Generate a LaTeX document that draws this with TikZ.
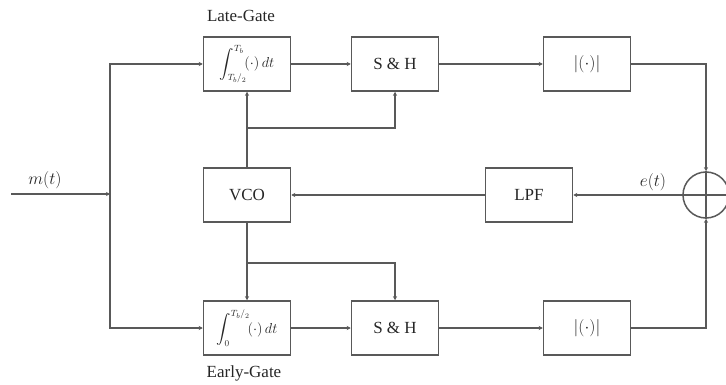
\documentclass[tikz,border=0pt]{standalone}
\usepackage{fontspec}
\usepackage{amsmath}
\setmainfont{Liberation Serif}
\usetikzlibrary{arrows.meta,calc}
\begin{document}
\begin{tikzpicture}[x=1pt,y=-1pt,
  wire/.style={draw=black!65,line width=1.5pt},
  arr/.style={wire,-{Stealth[length=4pt,width=4pt]}},
  blk/.style={draw=black!65,line width=1.5pt,minimum width=87pt,minimum height=54pt,inner sep=0pt,
    font=\fontsize{17}{19}\selectfont,text=black!85},
  lbl/.style={font=\fontsize{17}{19}\selectfont,text=black!85,inner sep=0pt},
  intg/.style={blk,font=\fontsize{13.5}{15}\selectfont}]
\useasboundingbox (0,0) rectangle (726,385);
% blocks
\node[intg] (late) at (247,64) {$\displaystyle\int_{T_b/_2}^{T_b}\!(\cdot)\,dt$};
\node[intg] (early) at (247,328) {$\displaystyle\int_{0}^{T_b/_2}\!(\cdot)\,dt$};
\node[blk] (sh1) at (395,64) {S \& H};
\node[blk] (sh2) at (395,328) {S \& H};
\node[blk] (abs1) at (587,64) {$|(\cdot)|$};
\node[blk] (abs2) at (587,328) {$|(\cdot)|$};
\node[blk] (vco) at (247,195) {VCO};
\node[blk] (lpf) at (529,195) {LPF};
\node[draw=black!65,line width=1.5pt,circle,minimum size=46pt,inner sep=0pt] (sum) at (706,195) {};
% labels
\node[lbl] (lt) at (241,16) {Late-Gate};
\node[lbl] (et) at (244,373) {Early-Gate};
\node[lbl] (mt) at (45,180) {$m(t)$};
\node[lbl] (ee) at (653,182) {$e(t)$};
% coordinates
\coordinate (in) at (11,194);
\coordinate (j) at (110,194);
\coordinate (b1) at (247,128);
\coordinate (b2) at (247,263);
\coordinate (se) at (726,195);
% connectors
\draw[arr] (in) -- (j);
\draw[arr] (j) |- (late.west);
\draw[arr] (j) |- (early.west);
\draw[arr] (late.east) -- (sh1.west);
\draw[arr] (sh1.east) -- (abs1.west);
\draw[arr] (abs1.east) -| (sum.north);
\draw[arr] (early.east) -- (sh2.west);
\draw[arr] (sh2.east) -- (abs2.west);
\draw[arr] (abs2.east) -| (sum.south);
\draw[arr] (sum.west) -- (lpf.east);
\draw[arr] (lpf.west) -- (vco.east);
\draw[arr] (vco.north) -- (late.south);
\draw[arr] (b1) -| (sh1.south);
\draw[arr] (vco.south) -- (early.north);
\draw[arr] (b2) -| (sh2.north);
% cross inside summer
\draw[wire] (sum.north) -- (sum.south);
\draw[wire] (sum.west) -- (se);
\end{tikzpicture}
\end{document}
